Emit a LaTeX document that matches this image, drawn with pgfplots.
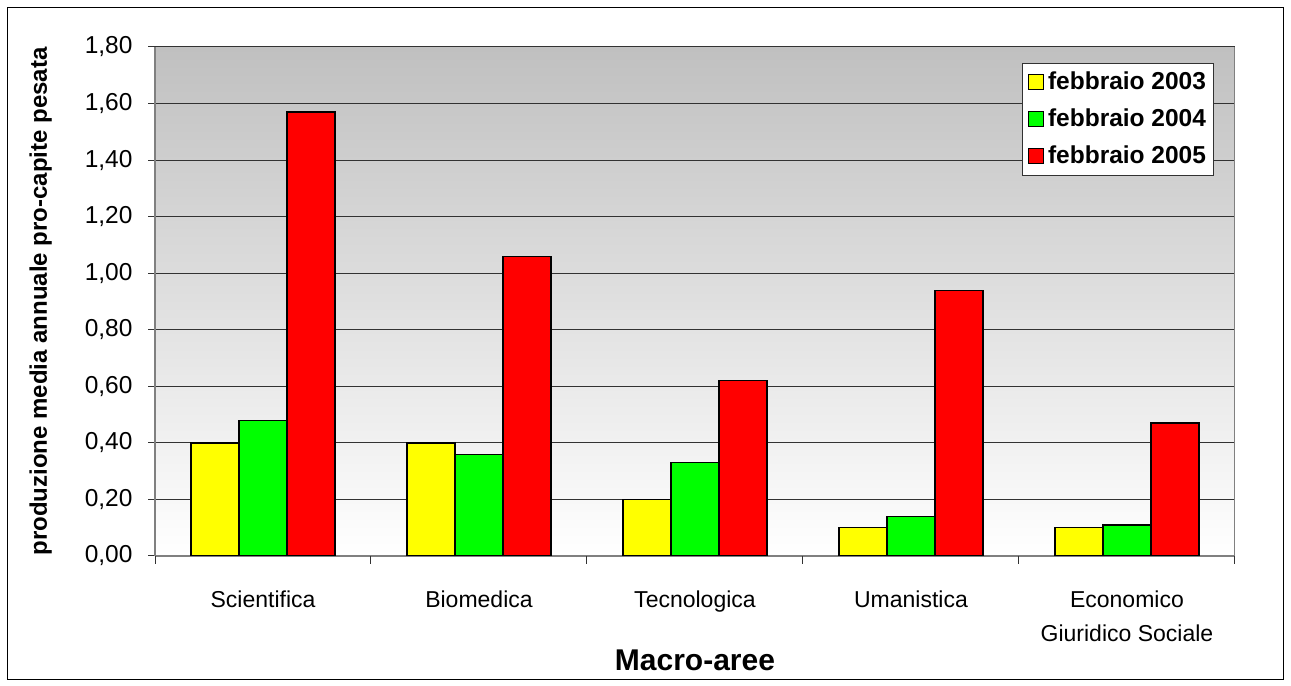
\documentclass[border=0pt]{standalone}
\usepackage{pgfplots}
\pgfplotsset{compat=1.18}
\usepackage{fontspec}
\setmainfont{Liberation Sans}

\definecolor{barY}{RGB}{255,255,0}
\definecolor{barG}{RGB}{0,255,0}
\definecolor{barR}{RGB}{255,0,0}
\definecolor{bgtop}{RGB}{192,192,192}
\definecolor{gridc}{RGB}{50,50,50}
\definecolor{axisc}{RGB}{128,128,128}

\begin{document}
\begin{tikzpicture}[x=1bp,y=1bp]
\useasboundingbox (0,0) rectangle (1291,686);
\fill[white] (0,0) rectangle (1291,686);
\draw[line width=1.2bp] (7.5,6.5) rectangle (1283.5,678.5);
\begin{axis}[
  at={(155bp,130bp)}, anchor=south west,
  scale only axis, width=1080bp, height=509bp,
  xmin=-0.5, xmax=4.5, ymin=0, ymax=1.8,
  axis background/.style={top color=bgtop, bottom color=white},
  axis x line*=bottom, axis y line*=left,
  axis line style={draw=axisc, line width=1.2bp},
  tick align=outside,
  ymajorgrids,
  major grid style={draw=gridc, line width=1bp},
  ytick={0,0.2,0.4,0.6,0.8,1.0,1.2,1.4,1.6,1.8},
  y tick style={draw=gridc, line width=1bp},
  major tick length=7bp,
  yticklabel style={
    /pgf/number format/.cd, fixed, fixed zerofill, precision=2, use comma,
    assume math mode=true, /tikz/.cd,
    font=\fontsize{24.5bp}{28bp}\selectfont, anchor=east, xshift=-12bp},
  xtick={0,1,2,3,4},
  xticklabels={Scientifica, Biomedica, Tecnologica, Umanistica,
    {Economico\\Giuridico Sociale}},
  x tick style={draw=none},
  xticklabel style={font=\fontsize{23bp}{34bp}\selectfont, align=center,
    anchor=north, inner sep=0pt, yshift=-28bp},
  extra x ticks={-0.5,0.5,1.5,2.5,3.5,4.5},
  extra x tick labels={},
  extra x tick style={grid=none, major tick length=8bp,
    x tick style={draw=gridc, line width=1bp}},
  xlabel={Macro-aree},
  xlabel style={at={(axis description cs:0.5,-0.224)}, anchor=base,
    font=\fontsize{30bp}{33bp}\bfseries\selectfont},
  ylabel={produzione media annuale pro-capite pesata},
  ylabel style={at={(axis description cs:-0.1,0.5)}, anchor=base,
    font=\fontsize{24bp}{27bp}\bfseries\selectfont},
  ybar, bar width=0.2222,
  legend image code/.code={
    \draw[#1, draw=black, line width=1bp] (0bp,-7.5bp) rectangle (15bp,7.5bp);
    \path[draw=none, fill=none] (0bp,0bp) -- (18bp,0bp);},
  legend style={at={(0.9806,0.9686)}, anchor=north east,
    draw=gridc, line width=1bp, fill=white,
    font=\fontsize{24.5bp}{28bp}\bfseries\selectfont,
    inner sep=6bp, row sep=11bp,
    nodes={inner sep=1.5bp, text height=19bp, text depth=4bp}},
  legend cell align=left,
]
\addplot[fill=barY, draw=black, line width=1.3bp, bar shift=-0.2222]
  coordinates {(0,0.40) (1,0.40) (2,0.20) (3,0.10) (4,0.10)};
\addplot[fill=barG, draw=black, line width=1.3bp, bar shift=0]
  coordinates {(0,0.48) (1,0.36) (2,0.33) (3,0.14) (4,0.11)};
\addplot[fill=barR, draw=black, line width=1.3bp, bar shift=0.2222]
  coordinates {(0,1.57) (1,1.06) (2,0.62) (3,0.94) (4,0.47)};
\legend{febbraio 2003, febbraio 2004, febbraio 2005}
\draw[draw=axisc, line width=1.2bp] (rel axis cs:1,0) -- (rel axis cs:1,1);
\end{axis}
\end{tikzpicture}
\end{document}
